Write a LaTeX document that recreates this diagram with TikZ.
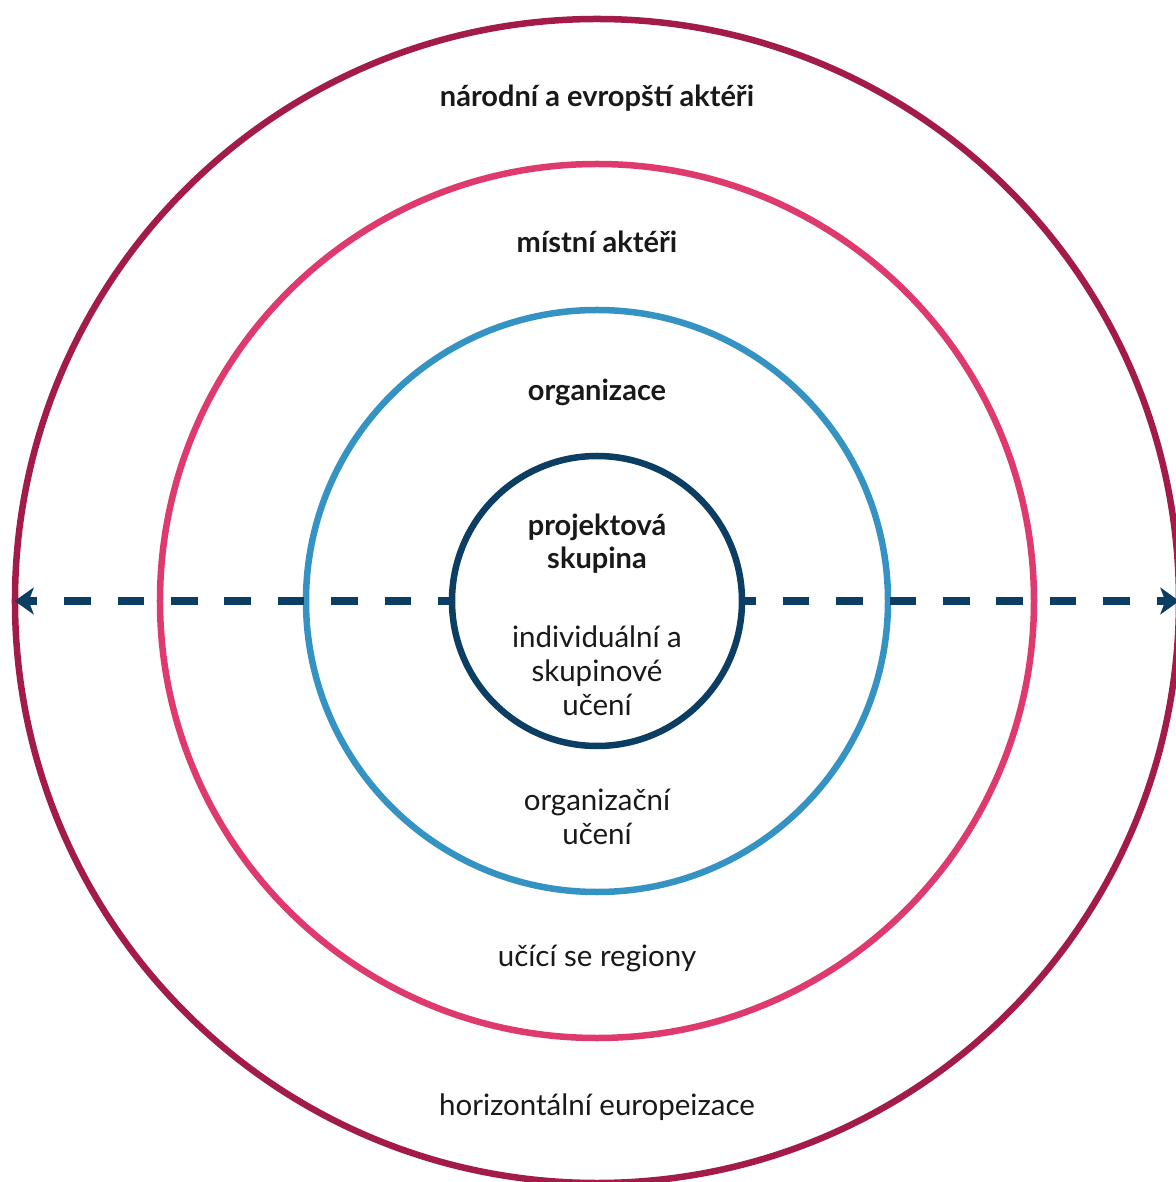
\documentclass[tikz,border=0pt]{standalone}
\usepackage{fontspec}
\setmainfont{Lato}
\usetikzlibrary{arrows.meta}
\definecolor{ringnat}{RGB}{163,28,72}
\definecolor{ringloc}{RGB}{222,58,110}
\definecolor{ringorg}{RGB}{53,147,196}
\definecolor{ringgrp}{RGB}{12,61,99}
\tikzset{
  ring/.style={circle, draw=#1, line width=6.5pt, inner sep=0pt, fill=white},
  actor/.style={font=\fontsize{29}{33}\selectfont\bfseries, align=center, text=black!90},
  learn/.style={font=\fontsize{29.5}{34}\selectfont, align=center, text=black!90},
  linkarr/.style={{Stealth[length=19pt,width=27pt,inset=5pt,line width=2.5pt]}-, line width=7.5pt, ringgrp,
    shorten <=3pt, dash pattern=on 26.7pt off 26.7pt, dash phase=17.3pt}
}
\begin{document}
\begin{tikzpicture}[x=1pt,y=1pt]
  \useasboundingbox (-597,601) rectangle (578,-581);
  % rings, outside in
  \node[ring=ringnat, minimum size=1164pt] (narodni) at (0,0) {};
  \node[ring=ringloc, minimum size=874pt] (mistni) at (0,0) {};
  \node[ring=ringorg, minimum size=582pt] (organizace) at (0,0) {};
  \node[ring=ringgrp, minimum size=290pt] (skupina) at (0,0) {};
  % horizontal link through all levels
  \draw[linkarr] (narodni.west) -- (skupina.west);
  \draw[linkarr] (narodni.east) -- (skupina.east);
  % level names
  \node[actor] (lbl-narodni) at (0,503) {národní a evropští aktéři};
  \node[actor] (lbl-mistni) at (0,359) {místní aktéři};
  \node[actor] (lbl-org) at (0,209) {organizace};
  \node[actor] (lbl-skupina) at (0,57) {projektová\\skupina};
  % kinds of learning
  \node[learn] (uc-ind) at (0,-70) {individuální a\\skupinové\\učení};
  \node[learn] (uc-org) at (0,-216) {organizační\\učení};
  \node[learn] (uc-reg) at (0,-357) {učící se regiony};
  \node[learn] (uc-eur) at (0,-506) {horizontální europeizace};
\end{tikzpicture}
\end{document}
